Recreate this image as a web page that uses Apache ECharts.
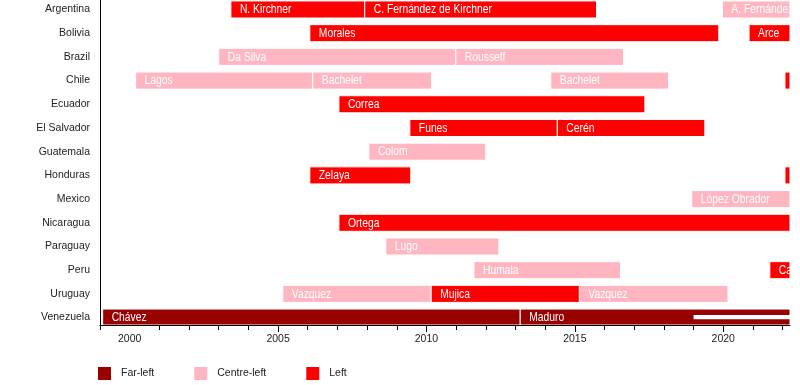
<!DOCTYPE html>
<html>
<head>
<meta charset="utf-8">
<script src="https://cdn.jsdelivr.net/npm/echarts@6/dist/echarts.min.js"></script>
<style>html,body{margin:0;padding:0;background:#fff}#chart{width:800px;height:385px}</style>
</head>
<body>
<div id="chart"></div>
<script>
const countries = ['Argentina','Bolivia','Brazil','Chile','Ecuador','El Salvador','Guatemala','Honduras','Mexico','Nicaragua','Paraguay','Peru','Uruguay','Venezuela'];
const ideologies = ['Far-left','Centre-left','Left'];
const ideologyColors = ['#990000','#FFB6C1','#FF0000'];

// Terms of office (fractional years)
const termCountry  = ['Argentina','Argentina','Argentina','Bolivia','Bolivia','Brazil','Brazil','Chile','Chile','Chile','Chile','Ecuador','El Salvador','El Salvador','Guatemala','Honduras','Honduras','Mexico','Nicaragua','Paraguay','Peru','Peru','Uruguay','Uruguay','Uruguay','Venezuela','Venezuela'];
const termLeader   = ['N. Kirchner','C. Fernández de Kirchner','A. Fernández','Morales','Arce','Da Silva','Rousseff','Lagos','Bachelet','Bachelet','Boric','Correa','Funes','Cerén','Colom','Zelaya','Castro','López Obrador','Ortega','Lugo','Humala','Castillo','Vazquez','Mujica','Vazquez','Chávez','Maduro'];
const termStart    = [2003.41,2007.92,2019.97,2006.07,2020.87,2003.00,2010.99,2000.20,2006.17,2014.19,2022.08,2007.05,2009.44,2014.41,2008.06,2006.07,2022.08,2018.94,2007.05,2008.63,2011.60,2021.57,2005.16,2010.16,2015.15,1999.09,2013.16];
const termEnd      = [2007.92,2015.73,2022.25,2019.85,2022.25,2010.99,2016.64,2006.17,2010.17,2018.16,2022.25,2017.36,2014.41,2019.38,2012.00,2009.47,2022.25,2022.25,2022.25,2012.44,2016.54,2022.25,2010.16,2015.15,2020.16,2013.16,2022.25];
const termIdeology = ['Left','Left','Centre-left','Left','Left','Centre-left','Centre-left','Centre-left','Centre-left','Centre-left','Left','Left','Left','Left','Centre-left','Left','Left','Centre-left','Left','Centre-left','Centre-left','Left','Centre-left','Left','Centre-left','Far-left','Far-left'];

// Contested presidency stripe (Venezuela)
const contestedCountry = 'Venezuela';
const contestedStart = 2019.0;
const contestedEnd = 2022.25;

const xMin = 1999, xMax = 2022.25;
const minorTickYears = [1999,2001,2002,2003,2004,2006,2007,2008,2009,2011,2012,2013,2014,2016,2017,2018,2019,2021,2022];
const majorTickYears = [2005,2010,2015,2020];
const xLabelYears = [2000,2005,2010,2015,2020];

const FONT = '"Liberation Sans",Arial,sans-serif';
const AXIS_FONT_SIZE = 10.5;

function renderTerm(params, api) {
  const y = api.value(0), s = api.value(1), e = api.value(2);
  const leader = termLeaderOf(params);
  const p0 = api.coord([s, y]);
  const p1 = api.coord([e, y]);
  const h = api.size([0, 1])[1] * 0.72;
  const cs = params.coordSys;
  const rect = echarts.graphic.clipRectByRect(
    {x: p0[0], y: p0[1] - h / 2, width: p1[0] - p0[0], height: h},
    {x: cs.x, y: cs.y, width: cs.width, height: cs.height});
  if (!rect) return null;
  const tx = p0[0] + 9;
  return {
    type: 'group',
    children: [{
      type: 'rect', shape: rect,
      style: {fill: api.visual('color'), stroke: '#fff', lineWidth: 1}
    }, {
      type: 'text',
      x: tx, y: p0[1] + 0.5, scaleX: 0.86,
      style: {
        text: leader, x: 0, y: 0, fill: '#fff',
        font: '12px ' + FONT, verticalAlign: 'middle', align: 'left'
      }
    }]
  };
}

function renderStripe(params, api) {
  const y = api.value(0), s = api.value(1), e = api.value(2);
  const p0 = api.coord([s, y]);
  const p1 = api.coord([e, y]);
  const h = api.size([0, 1])[1] * 0.18;
  const cs = params.coordSys;
  const rect = echarts.graphic.clipRectByRect(
    {x: p0[0], y: p0[1] - 0.4 - h / 2, width: p1[0] - p0[0], height: h},
    {x: cs.x, y: cs.y, width: cs.width, height: cs.height});
  if (!rect) return null;
  return {type: 'rect', shape: rect, style: {fill: '#fff'}};
}

const seriesLeaders = [];
function termLeaderOf(params) { return seriesLeaders[params.seriesIndex][params.dataIndex]; }

const series = ideologies.map((ideo, k) => {
  const data = [];
  const leaders = [];
  termCountry.forEach((c, i) => {
    if (termIdeology[i] === ideo) {
      data.push([countries.indexOf(c), termStart[i], termEnd[i]]);
      leaders.push(termLeader[i]);
    }
  });
  seriesLeaders[k] = leaders;
  return {
    type: 'custom', name: ideo, renderItem: renderTerm,
    itemStyle: {color: ideologyColors[k]},
    encode: {x: [1, 2], y: 0}, data, clip: true, z: 2
  };
});
series.push({
  type: 'custom', name: 'contested', renderItem: renderStripe,
  encode: {x: [1, 2], y: 0}, clip: true,
  data: [[countries.indexOf(contestedCountry), contestedStart, contestedEnd]], z: 3
});

const chart = echarts.init(document.getElementById('chart'), null, {renderer: 'canvas'});
chart.setOption({
  animation: false,
  backgroundColor: '#fff',
  grid: {left: 100, right: 10, top: 0, bottom: 60, containLabel: false},
  legend: {
    data: ideologies, left: 98, top: 367, icon: 'rect', padding: 0,
    itemWidth: 13, itemHeight: 13, itemGap: 40,
    textStyle: {fontFamily: FONT, fontSize: AXIS_FONT_SIZE, color: '#222', padding: [2, 0, 0, 5]}
  },
  xAxis: [{
    type: 'value', min: xMin, max: xMax, position: 'bottom',
    axisLine: {show: true, onZero: false, lineStyle: {color: '#000', width: 1}},
    axisTick: {show: true, customValues: minorTickYears, length: 5, lineStyle: {color: '#000'}},
    axisLabel: {show: false}, splitLine: {show: false}
  }, {
    type: 'value', min: xMin, max: xMax, position: 'bottom',
    axisLine: {show: false, onZero: false},
    axisTick: {show: true, customValues: majorTickYears, length: 7, lineStyle: {color: '#000'}},
    axisLabel: {show: true, customValues: xLabelYears, margin: 9, color: '#222', fontFamily: FONT, fontSize: AXIS_FONT_SIZE, formatter: v => String(v)},
    splitLine: {show: false}
  }],
  yAxis: {
    type: 'value', inverse: true, min: -0.4, max: 13.313,
    axisLine: {show: true, onZero: false, lineStyle: {color: '#000', width: 1}},
    axisTick: {show: false},
    splitLine: {show: false},
    axisLabel: {
      customValues: countries.map((c, i) => i), margin: 10,
      color: '#222', fontFamily: FONT, fontSize: AXIS_FONT_SIZE,
      formatter: v => countries[Math.round(v)] || ''
    }
  },
  series
});
</script>
</body>
</html>
